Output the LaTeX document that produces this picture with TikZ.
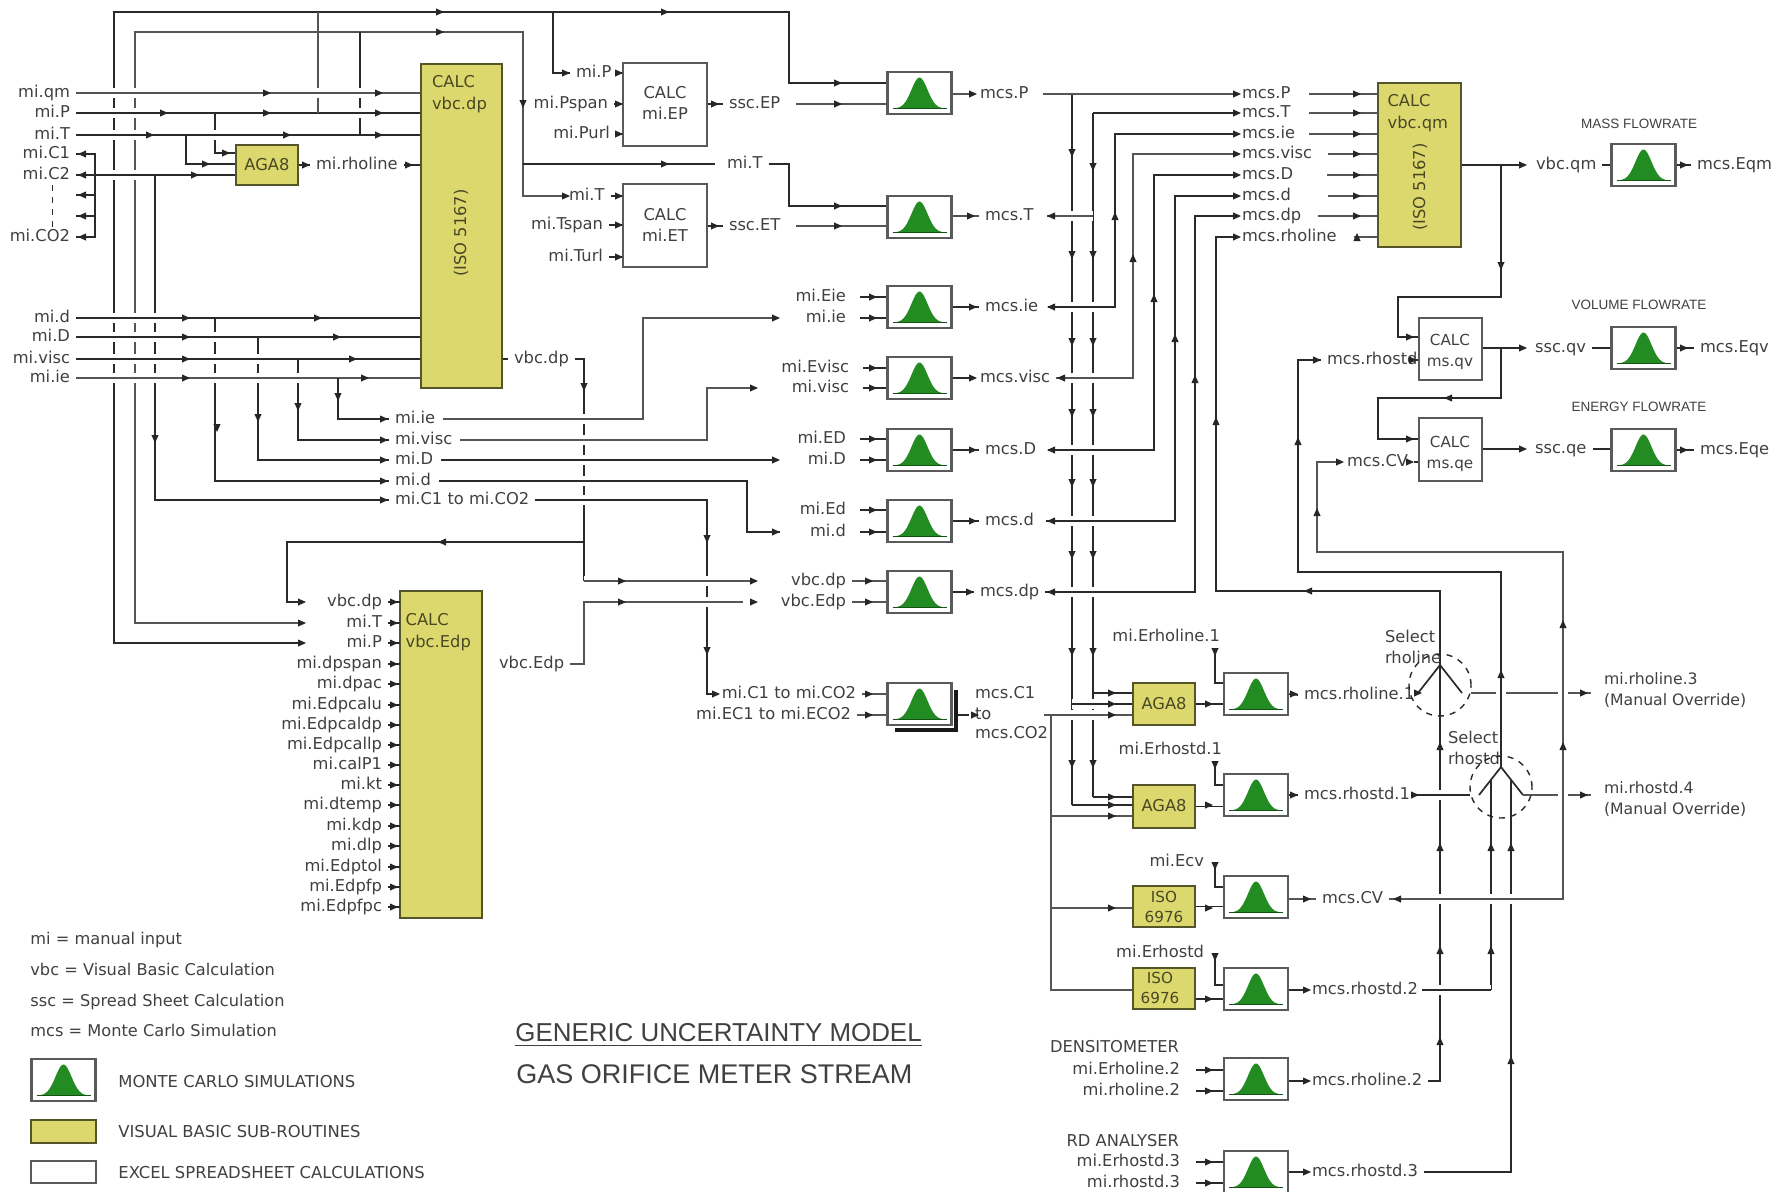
\documentclass[tikz,border=0pt]{standalone}
\usepackage{fontspec}
\setmainfont{DejaVu Sans}
\newfontfamily\arsf{Liberation Sans}
\pgfdeclarelayer{wires}
\pgfsetlayers{wires,main}
\definecolor{txt}{HTML}{404040}
\definecolor{wc}{HTML}{2A2A2A}
\definecolor{wgc}{HTML}{555555}
\definecolor{yel}{HTML}{DDD86E}
\definecolor{yed}{HTML}{55552A}
\definecolor{bgr}{HTML}{228B22}
\definecolor{edg}{HTML}{5A5A5A}
\tikzset{
 lab/.style={inner sep=0,outer sep=3pt,text height=6pt,text depth=1.5pt,text=txt,font=\fontsize{8.15}{10.5}\selectfont},
 mlab/.style={inner sep=0,outer sep=3pt,text=txt,align=left,font=\fontsize{8.15}{10.8}\selectfont},
 ylab/.style={mlab,text=yed!85!black},
 captxt/.style={inner sep=0,text=txt,font=\arsf\fontsize{6.75}{8}\selectfont},
 legtxt/.style={inner sep=0,anchor=west,text=txt,text height=6pt,text depth=1.5pt,font=\fontsize{8.1}{10}\selectfont},
 legcap/.style={inner sep=0,anchor=west,text=txt,text height=6pt,text depth=1.5pt,font=\fontsize{8.2}{10}\selectfont},
 ybox/.style={draw=yed,fill=yel,line width=1.1pt,inner sep=0,outer sep=0},
 wbox/.style={draw=edg,fill=white,line width=1pt,inner sep=0,outer sep=0},
 mcb/.style={draw=edg,fill=white,line width=1.2pt,inner sep=0,outer sep=0,minimum width=32pt,minimum height=21pt},
 wn/.style={draw=wc,line width=.85pt},
 wg/.style={draw=wgc,line width=1.4pt},
 hal/.style={preaction={draw=white,line width=5pt}},
 tipc/.style={fill=black!85},
 bell/.pic={\fill[bgr] plot[domain=-25:25,samples=41] (\x,{15.5-31*exp(-((\x)*(\x))/128)}) -- cycle;
            \draw[bgr!60!black,line width=.5pt] (-27,15.5) -- (27,15.5);}
}
\newcommand\LE[4]{\node[lab,anchor=east] (#1) at (#2+6,#3) {#4};}
\newcommand\LW[4]{\node[lab,anchor=west] (#1) at (#2-6,#3) {#4};}
\newcommand\blk[6]{\node[#1,anchor=north west,minimum width={(#5-#3)*.5pt},minimum height={(#6-#4)*.5pt}] (#2) at (#3,#4) {};}
\newcommand\mcbox[3]{\node[mcb] (#1) at (#2,#3) {}; \pic at (#1.center) {bell};}
\newcommand\TR[1]{\foreach \a/\b in {#1} \fill[tipc,shift={(\a,\b)}] (-4,-3.6) -- (4,0) -- (-4,3.6) -- cycle;}
\newcommand\TL[1]{\foreach \a/\b in {#1} \fill[tipc,shift={(\a,\b)}] (4,-3.6) -- (-4,0) -- (4,3.6) -- cycle;}
\newcommand\TU[1]{\foreach \a/\b in {#1} \fill[tipc,shift={(\a,\b)}] (-3.6,4) -- (0,-4) -- (3.6,4) -- cycle;}
\newcommand\TD[1]{\foreach \a/\b in {#1} \fill[tipc,shift={(\a,\b)}] (-3.6,-4) -- (0,4) -- (3.6,-4) -- cycle;}
\begin{document}
\begin{tikzpicture}[x=.5pt,y=-.5pt]
\useasboundingbox (0,0) rectangle (1789,1191);
% ---- blocks
\blk{ybox}{vdp}{421}{64}{502}{388}
\blk{ybox}{aga}{236}{145}{298}{185}
\blk{ybox}{ved}{400}{591}{482}{918}
\blk{wbox}{ep}{623}{63}{707}{146}
\blk{wbox}{et}{623}{184}{707}{267}
\blk{ybox}{vqm}{1378}{83}{1461}{247}
\blk{wbox}{qv}{1419}{318}{1482}{380}
\blk{wbox}{qe}{1419}{418}{1482}{481}
\blk{ybox}{aa}{1133}{683}{1195}{725}
\blk{ybox}{ab}{1133}{785}{1195}{828}
\blk{ybox}{ia}{1133}{886}{1195}{927}
\blk{ybox}{ib}{1133}{968}{1195}{1009}
\fill[black!90] (895,690) rectangle (958,732);
\fill[white] (890,686) rectangle (954,728);
\mcbox{mP}{919.5}{93}
\mcbox{mT}{919.5}{217}
\mcbox{mie}{919.5}{307}
\mcbox{mvi}{919.5}{378}
\mcbox{mD}{919.5}{450}
\mcbox{md}{919.5}{521}
\mcbox{mdp}{919.5}{592}
\mcbox{mC}{919.5}{704}
\mcbox{mra}{1256}{694}
\mcbox{msa}{1256}{795}
\mcbox{mcv}{1256}{897}
\mcbox{msb}{1256}{989}
\mcbox{mrb}{1256}{1079}
\mcbox{msc}{1256}{1172}
\mcbox{mEm}{1643.5}{165}
\mcbox{mEv}{1643.5}{348}
\mcbox{mEe}{1643.5}{450}
\mcbox{mleg}{63.5}{1080}
\blk{ybox}{yleg}{31}{1120}{96}{1143}
\blk{wbox}{wleg}{31}{1161}{96}{1183}
% ---- block texts
\node[ylab,anchor=west] (tvdp) at (426,94) {CALC\\vbc.dp};
\node[ylab,rotate=90] (tvdi) at (461,233) {(ISO 5167)};
\node[ylab,anchor=west] (tved) at (399.7,632) {CALC\\vbc.Edp};
\node[ylab,anchor=center] (taga) at (267,165) {AGA8};
\node[mlab,align=center] (tep) at (665,103) {CALC\\mi.EP};
\node[mlab,align=center] (tet) at (665,225) {CALC\\mi.ET};
\node[ylab,anchor=west] (tvqm) at (1381.6,113) {CALC\\vbc.qm};
\node[ylab,rotate=90] (tvqi) at (1420,187) {(ISO 5167)};
\node[mlab,align=center,font=\fontsize{7.6}{10.8}\selectfont] (tqv) at (1450,352) {CALC\\ms.qv};
\node[mlab,align=center,font=\fontsize{7.6}{10.8}\selectfont] (tqe) at (1450,454) {CALC\\ms.qe};
\node[ylab,anchor=center] (taa) at (1164,704) {AGA8};
\node[ylab,anchor=center] (tab) at (1164,806) {AGA8};
\node[ylab,anchor=center,align=center,font=\fontsize{7.6}{10}\selectfont] (tia) at (1164,907) {ISO\\6976};
\node[ylab,anchor=center,align=center,font=\fontsize{7.6}{10}\selectfont] (tib) at (1160,988) {ISO\\6976};
% ---- left labels
\LE{lqm}{70}{93}{mi.qm}\LE{lP}{70}{113}{mi.P}\LE{lT}{70}{135}{mi.T}
\LE{lCa}{70}{154}{mi.C1}\LE{lCb}{70}{175}{mi.C2}\LE{lCo}{70}{237}{mi.CO2}
\LE{ld}{70}{318}{mi.d}\LE{lD}{70}{337}{mi.D}\LE{lvi}{70}{359}{mi.visc}\LE{lie}{70}{378}{mi.ie}
\LW{lrho}{316}{165}{mi.rholine}
\LW{nie}{395}{419}{mi.ie}\LW{nvi}{395}{440}{mi.visc}\LW{nD}{395}{460}{mi.D}\LW{nd}{395}{481}{mi.d}\LW{nC}{395}{500}{mi.C1 to mi.CO2}
\LW{lvd}{514}{359}{vbc.dp}
\LW{led}{499}{664}{vbc.Edp}
% Edp inputs
\foreach \n/\y/\t in {a/602/vbc.dp,b/623/mi.T,c/643/mi.P,d/664/mi.dpspan,e/684/mi.dpac,f/705/mi.Edpcalu,g/725/mi.Edpcaldp,h/745/mi.Edpcallp,i/765/mi.calP1,j/785/mi.kt,k/805/mi.dtemp,l/826/mi.kdp,m/846/mi.dlp,n/867/mi.Edptol,o/887/mi.Edpfp,p/907/mi.Edpfpc}{
  \LE{ei\n}{382}{\y}{\t}
  \draw[wn] (ei\n.east) -- (ved.west |- ei\n);
}
% top labels
\LW{lPb}{576}{73}{mi.P}\LE{lPs}{608}{104}{mi.Pspan}\LE{lPu}{610}{134}{mi.Purl}
\LW{lTb}{569}{196}{mi.T}\LE{lTs}{603}{225}{mi.Tspan}\LE{lTu}{603}{257}{mi.Turl}
\LW{lTm}{727}{164}{mi.T}
\LW{lsP}{729}{104}{ssc.EP}\LW{lsT}{729}{226}{ssc.ET}
\LE{lEie}{846}{297}{mi.Eie}\LE{lie2}{846}{318}{mi.ie}
\LE{lEv}{849}{368}{mi.Evisc}\LE{lvi2}{849}{388}{mi.visc}
\LE{lED}{846}{439}{mi.ED}\LE{lD2}{846}{460}{mi.D}
\LE{lEd}{846}{510}{mi.Ed}\LE{ld2}{846}{532}{mi.d}
\LE{lvd2}{846}{581}{vbc.dp}\LE{led2}{846}{602}{vbc.Edp}
\LE{lC2}{856}{694}{mi.C1 to mi.CO2}\LE{lEC}{851}{715}{mi.EC1 to mi.ECO2}
% mc outputs
\LW{oP}{980}{94}{mcs.P}\LW{oT}{985}{216}{mcs.T}\LW{oie}{985}{307}{mcs.ie}\LW{ovi}{980}{378}{mcs.visc}
\LW{oD}{985}{450}{mcs.D}\LW{od}{985}{521}{mcs.d}\LW{odp}{980}{592}{mcs.dp}
\LW{oCa}{975}{694}{mcs.C1}\LW{oCt}{975}{715}{to}\LW{oCb}{975}{734}{mcs.CO2}
% second column
\LW{pP}{1242}{94}{mcs.P}\LW{pT}{1242}{113}{mcs.T}\LW{pie}{1242}{134}{mcs.ie}\LW{pvi}{1242}{154}{mcs.visc}
\LW{pD}{1242}{175}{mcs.D}\LW{pd}{1242}{196}{mcs.d}\LW{pdp}{1242}{216}{mcs.dp}\LW{prl}{1242}{237}{mcs.rholine}
\LW{lvq}{1536}{165}{vbc.qm}\LW{oEm}{1697}{165}{mcs.Eqm}
\node[captxt] (cm) at (1639,124) {MASS FLOWRATE};
\node[captxt] (cv) at (1639,305) {VOLUME FLOWRATE};
\node[captxt] (ce) at (1639,407) {ENERGY FLOWRATE};
\LW{lrs}{1327}{360}{mcs.rhostd}
\LW{lcv}{1347}{462}{mcs.CV}
\LW{lqv}{1535}{348}{ssc.qv}\LW{oEv}{1700}{348}{mcs.Eqv}
\LW{lqe}{1535}{449}{ssc.qe}\LW{oEe}{1700}{450}{mcs.Eqe}
\LE{lEra}{1220}{637}{mi.Erholine.1}\LE{lEsa}{1222}{750}{mi.Erhostd.1}\LE{lEcv}{1204}{862}{mi.Ecv}\LE{lEsb}{1204}{953}{mi.Erhostd}
\LW{ora}{1304}{695}{mcs.rholine.1}\LW{osa}{1304}{795}{mcs.rhostd.1}\LW{ocv}{1322}{899}{mcs.CV}
\LW{osb}{1312}{990}{mcs.rhostd.2}\LW{orb}{1312}{1081}{mcs.rholine.2}\LW{osc}{1312}{1172}{mcs.rhostd.3}
\LE{lden}{1179}{1048}{DENSITOMETER}\LE{lErb}{1180}{1070}{mi.Erholine.2}\LE{lrb}{1180}{1091}{mi.rholine.2}
\LE{lana}{1179}{1142}{RD ANALYSER}\LE{lEsc}{1180}{1162}{mi.Erhostd.3}\LE{lsc}{1180}{1183}{mi.rhostd.3}
\node[mlab,anchor=west] (ssa) at (1379,647) {Select\\rholine};
\node[mlab,anchor=west] (ssb) at (1442,748) {Select\\rhostd};
\node[mlab,anchor=west,font=\fontsize{7.85}{10.8}\selectfont] (lr3) at (1598,690) {mi.rholine.3\\(Manual Override)};
\node[mlab,anchor=west,font=\fontsize{7.85}{10.8}\selectfont] (ls4) at (1598,799) {mi.rhostd.4\\(Manual Override)};
% legend + title
\node[legtxt] (g1) at (30,940) {mi = manual input};
\node[legtxt] (g2) at (30,971) {vbc = Visual Basic Calculation};
\node[legtxt] (g3) at (30,1002) {ssc = Spread Sheet Calculation};
\node[legtxt] (g4) at (30,1032) {mcs = Monte Carlo Simulation};
\node[legcap] (g5) at (118,1083) {MONTE CARLO SIMULATIONS};
\node[legcap] (g6) at (118,1133) {VISUAL BASIC SUB-ROUTINES};
\node[legcap] (g7) at (118,1174) {EXCEL SPREADSHEET CALCULATIONS};
\node[inner sep=0,anchor=west,text=txt,font=\arsf\fontsize{12.95}{15}\selectfont] (tt1) at (515,1035) {\underline{GENERIC UNCERTAINTY MODEL}};
\node[inner sep=0,anchor=west,text=txt,font=\arsf\fontsize{13.5}{15}\selectfont] (tt2) at (516,1074) {GAS ORIFICE METER STREAM};
% ---- free ends
\coordinate (eP) at (302,643); \coordinate (eT) at (302,623); \coordinate (eV) at (302,602);
\begin{pgfonlayer}{wires}
% ---- buses, left
\draw[wn] (eP) -- (114,643) -- (114,12) -- (789,12) -- (789,83) -- (mP.west |- 0,83);
\draw[wg] (eT) -- (135,623) -- (135,32) -- (523,32) -- (523,196) -- (lTb.west);
\draw[wn] (553,12) -- (553,73) -- (lPb.west);
\draw[wn] (523,164) -- ([xshift=-3pt]lTm.west);
\draw[wn] (lTm.east) -- (789,164) -- (789,206) -- (mT.west |- 0,206);
\draw[wg] (318,12) -- (318,113);
\draw[wn] (360,32) -- (360,135);
\draw[wg,hal] (lqm.east) -- (vdp.west |- lqm);
\draw[wn,hal] (lP.east) -- (vdp.west |- lP);
\draw[wg] (318,101) -- (318,113);
\draw[wn] (215,113) -- (215,153) -- (aga.west |- 0,153);
\draw[wn,hal] (lT.east) -- (vdp.west |- lT);
\draw[wn] (360,120) -- (360,135);
\draw[wn] (186,135) -- (186,164) -- (aga.west |- 0,164);
\draw[wn,hal] (lCb.east) -- (aga.west |- 0,175);
\draw[wn] (lCa.east) -- (95,154) -- (95,237) -- (lCo.east);
\coordinate (cc) at (76,195); \coordinate (cd) at (76,216);
\draw[wn] (cc) -- (95,195); \draw[wn] (cd) -- (95,216);
\draw[wn,line width=.5pt,dashed] (52,185) -- (52,227);
\draw[wn] (aga.east) -- (lrho.west);
\draw[wn] (lrho.east) -- (vdp.west |- lrho);
\draw[wn] (155,175) -- (155,500) -- (nC.west);
\draw[wn,hal] (ld.east) -- (vdp.west |- ld);
\draw[wn] (215,318) -- (215,481) -- (nd.west);
\draw[wn,hal] (lD.east) -- (vdp.west |- lD);
\draw[wn] (258,337) -- (258,460) -- (nD.west);
\draw[wn,hal] (lvi.east) -- (vdp.west |- lvi);
\draw[wn] (298,359) -- (298,440) -- (nvi.west);
\draw[wg,hal] (lie.east) -- (vdp.west |- lie);
\draw[wn] (338,378) -- (338,419) -- (nie.west);
% vbc.dp
\draw[wn] (vdp.east |- 0,359) -- (lvd.west);
\draw[wn] (lvd.east) -- (584,359) -- (584,581);
\draw[wn] (584,542) -- (287,542) -- (287,602) -- (eV);
% middle
\draw[wg,hal] ([xshift=1pt]nie.east) -- (643,419) -- (643,318) -- ([xshift=-12pt]lie2.west);
\draw[wg,hal] ([xshift=1pt]nvi.east) -- (707,440) -- (707,388) -- ([xshift=-16pt]lvi2.west);
\draw[wn,hal] ([xshift=1pt]nD.east) -- ([xshift=-12pt]lD2.west);
\draw[wn,hal] ([xshift=1pt]nd.east) -- (747,481) -- (747,532) -- ([xshift=-12pt]ld2.west);
\draw[wn,hal] (nC.east) -- (707,500) -- (707,694) -- ([xshift=-2pt]lC2.west);
\draw[wg,hal] (584,581) -- ([xshift=-16pt]lvd2.west);
\draw[wg,hal] (led.east) -- (584,664) -- (584,602) -- ([xshift=-16pt]led2.west);
% top boxes
\draw[wn] (lPb.east) -- (ep.west |- lPb);
\draw[wn] (lPs.east) -- (ep.west |- lPs);
\draw[wn] (lPu.east) -- (ep.west |- lPu);
\draw[wn] (lTb.east) -- (et.west |- lTb);
\draw[wn] (lTs.east) -- (et.west |- lTs);
\draw[wn] (lTu.east) -- (et.west |- lTu);
\draw[wn] (ep.east |- lsP) -- (lsP.west);
\draw[wn] (et.east |- lsT) -- (lsT.west);
\draw[wg] ([xshift=5pt]lsP.east) -- (mP.west |- lsP);
\draw[wg] ([xshift=5pt]lsT.east) -- (mT.west |- lsT);
% mc inputs
\foreach \l/\m in {lEie/mie,lie2/mie,lEv/mvi,lvi2/mvi,lED/mD,lD2/mD,lEd/md,ld2/md}
  \draw[wn] ([xshift=4pt]\l.east) -- (\m.west |- \l);
\foreach \l/\m in {lvd2/mdp,led2/mdp,lC2/mC,lEC/mC}
  \draw[wg] (\l.east) -- (\m.west |- \l);
% mc outputs
\draw[wg] (mP.east |- oP) -- (oP.west);
\draw[wg] (mT.east |- oT) -- (oT.west);
\draw[wn] (mie.east |- oie) -- (oie.west);
\draw[wn] (mvi.east |- ovi) -- (ovi.west);
\draw[wn] (mD.east |- oD) -- (oD.west);
\draw[wn] (md.east |- od) -- (od.west);
\draw[wn] (mdp.east |- odp) -- (odp.west);
\draw[wn] (mC.east |- oCt) -- (oCt.west);
% right buses
\draw[wn] (1072,94) -- (1072,805);
\draw[wn] (1093,113) -- (1093,797);
\draw[wg] ([xshift=4.5pt]oP.east) -- (pP.west);
\draw[wn] (1093,113) -- (pT.west);
\draw[wg,hal] ([xshift=4pt]oT.east) -- (1093,216);
\draw[wn,hal] ([xshift=2pt]oie.east) -- (1115,307) -- (1115,134) -- (pie.west);
\draw[wg,hal] (ovi.east) -- (1133,378) -- (1133,154) -- (pvi.west);
\draw[wn,hal] ([xshift=3pt]oD.east) -- (1154,450) -- (1154,175) -- (pD.west);
\draw[wn,hal] ([xshift=3pt]od.east) -- (1175,521) -- (1175,196) -- (pd.west);
\draw[wn,hal] (odp.east) -- (1195,592) -- (1195,216) -- (pdp.west);
\draw[wn] (1093,693) -- (aa.west |- 0,693);
\draw[wn,hal] (1072,704) -- (aa.west |- 0,704);
\coordinate (cb) at (1044,715);
\draw[wg,hal] (cb) -- (aa.west |- 0,715);
\draw[wg] (1051,715) -- (1051,990) -- (ib.west |- 0,990);
\draw[wn] (1093,797) -- (ab.west |- 0,797);
\draw[wn] (1072,805) -- (ab.west |- 0,805);
\draw[wg] (1051,816) -- (ab.west |- 0,816);
\draw[wg] (1051,908) -- (ia.west |- 0,908);
% to vbc.qm
\foreach \l/\s in {pP/9.5,pT/9.5,pie/7,pvi/8,pD/17,pd/18.5,pdp/8.5,prl/8.5}
  \draw[wg] ([xshift=\s pt-3pt]\l.east) -- (vqm.west |- \l);
\draw[wn] (vqm.east |- lvq) -- ([xshift=-3pt]lvq.west);
\draw[wn] (lvq.east) -- (mEm.west |- lvq);
\draw[wn] (mEm.east) -- (oEm.west);
\draw[wn] (1501,165) -- (1501,297) -- (1398,297) -- (1398,337) -- (qv.west |- 0,337);
\draw[wn] (qv.east |- lqv) -- ([xshift=-3pt]lqv.west);
\draw[wn] (1501,348) -- (1501,398) -- (1378,398) -- (1378,439) -- (qe.west |- 0,439);
\draw[wn] (lqv.east) -- (mEv.west |- lqv);
\draw[wn] (mEv.east) -- (oEv.west);
\draw[wn] (qe.east |- lqe) -- ([xshift=-3pt]lqe.west);
\draw[wn] (lqe.east) -- (mEe.west |- lqe);
\draw[wn] (mEe.east) -- (oEe.west);
% lower column
\draw[wn] (aa.east) -- (mra.west |- aa);
\draw[wn] (ab.east) -- (msa.west |- ab);
\draw[wn] (ia.east) -- (mcv.west |- ia);
\draw[wn] (ib.east |- 0,999) -- (msb.west |- 0,999);
\coordinate (ea) at (1215,650); \coordinate (eb) at (1215,763); \coordinate (ec) at (1215,864); \coordinate (ed) at (1215,955);
\draw[wn] (ea) -- (1215,683) -- (mra.west |- 0,683);
\draw[wn] (eb) -- (1215,785) -- (msa.west |- 0,785);
\draw[wn] (ec) -- (1215,887) -- (mcv.west |- 0,887);
\draw[wn] (ed) -- (1215,985) -- (msb.west |- 0,985);
\foreach \l/\m in {lErb/mrb,lrb/mrb,lEsc/msc,lsc/msc}
  \draw[wn] ([xshift=5pt]\l.east) -- (\m.west |- \l);
\draw[wn] (mra.east) -- (ora.west);
\draw[wn] (msa.east) -- (osa.west);
\draw[wg] (mcv.east |- ocv) -- (ocv.west);
\draw[wn] (msb.east |- osb) -- (osb.west);
\draw[wn] (mrb.east |- orb) -- (orb.west);
\draw[wn] (msc.east |- osc) -- (osc.west);
\end{pgfonlayer}
% selects
\node[circle,draw=wc,dashed,line width=.7pt,minimum size=31pt,inner sep=0,outer sep=0] (sela) at (1440,685) {};
\node[circle,draw=wc,dashed,line width=.7pt,minimum size=31pt,inner sep=0,outer sep=0] (selb) at (1501,787) {};
\begin{pgfonlayer}{wires}
\draw[wn] (1418,693) -- (1440,665) -- (1462,693);
\draw[wn] (1479,795) -- (1501,767) -- (1523,795);
\draw[wn] (orb.east) -- (1440,1081) -- (1440,591) -- (1216,591) -- (1216,237) -- (prl.west);
\draw[wn] (1491,990) -- (1491,780);
\draw[wn] (osc.east) -- (1511,1172) -- (1511,780);
\draw[wg] (sela.east |- 0,693) -- ([xshift=-3.5pt]lr3.west |- 0,693);
\draw[wn,hal] (osa.east) -- (selb.west |- 0,795);
\draw[wg] (1523,795) -- ([xshift=-3.5pt]ls4.west |- 0,795);
\draw[wn,hal] (1501,767) -- (1501,572) -- (1298,572) -- (1298,360) -- (lrs.west);
\draw[wn] ([xshift=-6pt]lrs.east) -- (qv.west |- lrs);
\draw[wg,hal] (ocv.east) -- (1563,899) -- (1563,552) -- (1317,552) -- (1317,462) -- (lcv.west);
\draw[wn] (lcv.east) -- (qe.west |- lcv);
\draw[wn,hal] ([xshift=-1pt]osb.east) -- (1491,990);
\end{pgfonlayer}
% ---- arrow marks
\TR{267/93,379/93,164/113,267/113,379/113,150/135,287/135,379/135,226/153,206/164,195/175,306/165,409/165,
 186/318,186/337,186/359,186/378,318/318,337/337,353/359,365/378,
 384/419,384/440,384/460,384/481,384/500,302/602,302/623,302/643,
 776/318,754/388,776/460,776/532,754/581,754/602,622/581,622/602,716/694,
 440/12,440/32,665/12,665/164,566/73,566/196,715/104,715/226,
 619/73,619/104,619/134,619/196,619/225,619/257,838/83,838/104,838/206,838/226,
 873/297,873/318,873/368,873/388,873/439,873/460,873/510,873/532,869/581,869/602,869/694,869/715,
 973/94,971/216,973/307,973/378,973/450,973/521,970/592,975/715,
 1237/94,1237/113,1237/134,1237/154,1237/175,1237/196,1237/216,1237/237,
 1357/94,1357/113,1357/134,1357/154,1357/175,1357/196,1357/216,
 1523/165,1684/165,1523/348,1684/348,1523/449,1684/450,1410/337,1317/360,1413/360,1340/462,1410/462,1410/439,
 1112/693,1112/704,1112/715,1112/797,1112/805,1112/816,1112/908,
 1209/704,1209/805,1209/908,1209/999,1209/1070,1209/1091,1209/1162,1209/1183,
 1294/694,1294/795,1307/899,1307/990,1307/1081,1307/1172,1418/693,1415/795,1584/693,1584/795}
\foreach \y in {602,623,643,664,684,705,725,745,765,785,805,826,846,867,887,907} {\TR{394/\y}}
\TL{82/154,82/175,82/195,82/216,82/237,442/542,1051/216,1051/307,1061/378,1051/450,1051/521,1051/592,1308/591,1397/899,1448/398}
\TD{155/439,217/428,258/418,298/407,338/397,584/387,707/539,707/651,523/104,
 1072/153,1072/255,1072/342,1072/413,1072/483,1072/555,1072/652,1072/764,
 1093/167,1093/255,1093/342,1093/413,1093/483,1093/555,1093/652,1093/764,
 1501/266,1215/652,1215/765,1215/866,1215/957}
\TU{1115/216,1133/258,1154/298,1175/338,1195/379,1216/421,1357/237,
 1440/746,1440/847,1440/950,1440/1041,1491/847,1491/950,1511/847,1511/1060,
 1563/624,1563/746,1501/674,1298/441,1317/512}
\end{tikzpicture}
\end{document}
